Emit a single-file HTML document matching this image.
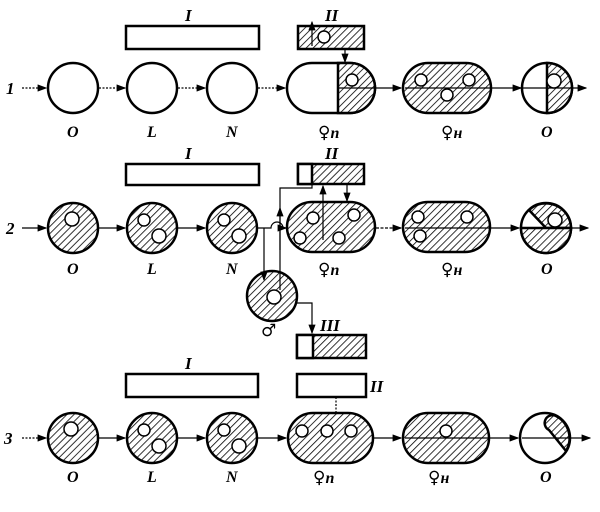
<!DOCTYPE html>
<html><head><meta charset="utf-8"><style>
html,body{margin:0;padding:0;background:#fff;}
svg{display:block}
text{font-family:"Liberation Serif","Noto Serif CJK SC",serif;font-style:italic;font-weight:bold;fill:#000}
.v{font-style:normal;font-weight:normal;font-family:"DejaVu Sans",sans-serif;font-size:17px}
</style></head><body>
<svg width="600" height="512" viewBox="0 0 600 512" xmlns="http://www.w3.org/2000/svg">
<defs>
<pattern id="h" patternUnits="userSpaceOnUse" width="5" height="5" patternTransform="rotate(45)">
<rect width="5" height="5" fill="#fff"/><line x1="0" y1="0" x2="0" y2="5" stroke="#000" stroke-width="1.6"/>
</pattern>
<marker id="a" markerWidth="8" markerHeight="6" refX="7" refY="3" orient="auto"><path d="M0,0L8,3L0,6z" fill="#000"/></marker>
</defs>

<!-- ROW 1 (cy=88) -->
<g stroke="#000" stroke-width="2.5" fill="none">
<rect x="126" y="26" width="133" height="23" fill="#fff"/>
<rect x="298" y="26" width="66" height="23" fill="url(#h)"/>
<circle cx="73" cy="88" r="25" fill="#fff"/>
<circle cx="152" cy="88" r="25" fill="#fff"/>
<circle cx="232" cy="88" r="25" fill="#fff"/>
<path d="M312,63 H350 A25,25 0 0 1 350,113 H312 A25,25 0 0 1 312,63z" fill="#fff"/>
<path d="M338,63 H350 A25,25 0 0 1 350,113 H338z" fill="url(#h)"/>
<rect x="403" y="63" width="88" height="50" rx="25" fill="url(#h)"/>
<circle cx="547" cy="88" r="25" fill="#fff"/>
<path d="M547,63 A25,25 0 0 1 547,113z" fill="url(#h)"/>
</g>
<g stroke="#000" stroke-width="1.2" fill="none">
<path d="M22,88H46" stroke-dasharray="2,1.5" marker-end="url(#a)"/>
<path d="M99,88H125" stroke-dasharray="2,1.5" marker-end="url(#a)"/>
<path d="M178,88H205" stroke-dasharray="2,1.5" marker-end="url(#a)"/>
<path d="M258,88H285" stroke-dasharray="2,1.5" marker-end="url(#a)"/>
<path d="M338,88H375"/>
<path d="M376,88H401" marker-end="url(#a)"/>
<path d="M405,88H521" marker-end="url(#a)"/>
<path d="M522,88H586" marker-end="url(#a)"/>
<path d="M345,49V62" marker-end="url(#a)"/>
<path d="M312,46V22" marker-end="url(#a)"/>
</g>
<g stroke="#000" stroke-width="1.5" fill="#fff">
<circle cx="324" cy="37" r="6"/><circle cx="352" cy="80" r="6"/>
<circle cx="421" cy="80" r="6"/><circle cx="469" cy="80" r="6"/><circle cx="447" cy="95" r="6"/>
<circle cx="554" cy="81" r="7"/>
</g>

<!-- ROW 2 (cy=228) -->
<g stroke="#000" stroke-width="2.5" fill="none">
<rect x="126" y="164" width="133" height="21" fill="#fff"/>
<rect x="298" y="164" width="66" height="20" fill="url(#h)"/>
<rect x="298" y="164" width="14" height="20" fill="#fff"/>
<circle cx="73" cy="228" r="25" fill="url(#h)"/>
<circle cx="152" cy="228" r="25" fill="url(#h)"/>
<circle cx="232" cy="228" r="25" fill="url(#h)"/>
<rect x="287" y="202" width="88" height="50" rx="25" fill="url(#h)"/>
<rect x="403" y="202" width="87" height="50" rx="25" fill="url(#h)"/>
<circle cx="546" cy="228" r="25" fill="#fff"/>
<path d="M529,210 A25,25 0 0 1 571,228 L546,228z" fill="url(#h)"/>
<path d="M521,228 A25,25 0 0 0 571,228z" fill="url(#h)"/>
<circle cx="272" cy="296" r="25" fill="url(#h)"/>
<rect x="297" y="335" width="69" height="23" fill="url(#h)"/>
<rect x="297" y="335" width="16" height="23" fill="#fff"/>
</g>
<g stroke="#000" stroke-width="1.2" fill="none">
<path d="M22,228H46" marker-end="url(#a)"/>
<path d="M99,228H125" marker-end="url(#a)"/>
<path d="M178,228H205" marker-end="url(#a)"/>
<path d="M258,228H271 A6,6 0 0 1 283,228 H286" marker-end="url(#a)"/>
<path d="M376,228H401" stroke-dasharray="3,1.5" marker-end="url(#a)"/>
<path d="M405,228H519" marker-end="url(#a)"/>
<path d="M522,228H588" marker-end="url(#a)"/>
<path d="M264,228V280" marker-end="url(#a)"/>
<path d="M280,290V188 H312 V184"/>
<path d="M280,250V208" marker-end="url(#a)"/>
<path d="M323,240V186" marker-end="url(#a)"/>
<path d="M347,184V201" marker-end="url(#a)"/>
<path d="M297,303H312V333" marker-end="url(#a)"/>
</g>
<g stroke="#000" stroke-width="1.5" fill="#fff">
<circle cx="72" cy="219" r="7"/>
<circle cx="144" cy="220" r="6"/><circle cx="159" cy="236" r="7"/>
<circle cx="224" cy="220" r="6"/><circle cx="239" cy="236" r="7"/>
<circle cx="313" cy="218" r="6"/><circle cx="300" cy="238" r="6"/><circle cx="339" cy="238" r="6"/><circle cx="354" cy="215" r="6"/>
<circle cx="418" cy="217" r="6"/><circle cx="467" cy="217" r="6"/><circle cx="420" cy="236" r="6"/>
<circle cx="555" cy="220" r="7"/>
<circle cx="274" cy="297" r="7"/>
</g>

<!-- ROW 3 (cy=438) -->
<g stroke="#000" stroke-width="2.5" fill="none">
<rect x="126" y="374" width="132" height="23" fill="#fff"/>
<rect x="297" y="374" width="69" height="23" fill="#fff"/>
<circle cx="73" cy="438" r="25" fill="url(#h)"/>
<circle cx="152" cy="438" r="25" fill="url(#h)"/>
<circle cx="232" cy="438" r="25" fill="url(#h)"/>
<rect x="288" y="413" width="85" height="50" rx="25" fill="url(#h)"/>
<rect x="403" y="413" width="86" height="50" rx="25" fill="url(#h)"/>
<circle cx="545" cy="438" r="25" fill="#fff"/>
<path d="M556,416 A25,25 0 0 1 566,451 L549,430 A7,7 0 0 1 556,416z" fill="url(#h)"/>
</g>
<g stroke="#000" stroke-width="1.2" fill="none">
<path d="M22,438H46" stroke-dasharray="2,1.5" marker-end="url(#a)"/>
<path d="M99,438H125" marker-end="url(#a)"/>
<path d="M178,438H205" marker-end="url(#a)"/>
<path d="M258,438H286" marker-end="url(#a)"/>
<path d="M374,438H401" marker-end="url(#a)"/>
<path d="M405,438H518" marker-end="url(#a)"/>
<path d="M522,438H590" marker-end="url(#a)"/>
<path d="M336,397V412" stroke-dasharray="2,1.5"/>
</g>
<g stroke="#000" stroke-width="1.5" fill="#fff">
<circle cx="71" cy="429" r="7"/>
<circle cx="144" cy="430" r="6"/><circle cx="159" cy="446" r="7"/>
<circle cx="224" cy="430" r="6"/><circle cx="239" cy="446" r="7"/>
<circle cx="302" cy="431" r="6"/><circle cx="327" cy="431" r="6"/><circle cx="351" cy="431" r="6"/>
<circle cx="446" cy="431" r="6"/>
</g>

<!-- labels -->
<g font-size="17">
<text x="6" y="94">1</text><text x="6" y="234">2</text><text x="4" y="444">3</text>
<text x="185" y="21">I</text><text x="325" y="21">II</text>
<text x="185" y="159">I</text><text x="325" y="159">II</text>
<text x="185" y="369">I</text><text x="370" y="392">II</text>
<text x="320" y="331">III</text>
</g>
<g font-size="16">
<text x="67" y="137">O</text><text x="147" y="137">L</text><text x="226" y="137">N</text>
<text x="318" y="138"><tspan class="v">♀</tspan>n</text><text x="441" y="138"><tspan class="v">♀</tspan>н</text><text x="541" y="137">O</text>
<text x="67" y="274">O</text><text x="147" y="274">L</text><text x="226" y="274">N</text>
<text x="318" y="275"><tspan class="v">♀</tspan>n</text><text x="441" y="275"><tspan class="v">♀</tspan>н</text><text x="541" y="274">O</text>
<text x="67" y="482">O</text><text x="147" y="482">L</text><text x="226" y="482">N</text>
<text x="313" y="483"><tspan class="v">♀</tspan>n</text><text x="428" y="483"><tspan class="v">♀</tspan>н</text><text x="540" y="482">O</text>
<text x="261" y="336" class="v">♂</text>
</g>
</svg>
</body></html>
